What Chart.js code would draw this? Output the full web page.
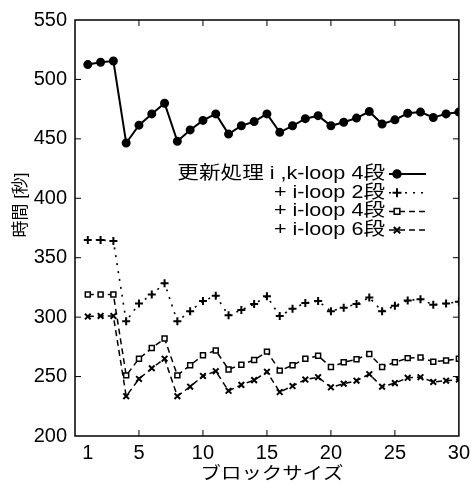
<!DOCTYPE html>
<html>
<head>
<meta charset="utf-8">
<script src="https://cdn.jsdelivr.net/npm/chart.js@4"></script>
<style>
  html, body { margin: 0; padding: 0; background: #fff; }
  #wrap { width: 475px; height: 488px; }
</style>
</head>
<body>
<div id="wrap"><canvas id="graph" width="475" height="488"></canvas></div>
<script>
  // block sizes 1..30
  const blockSizes = [1,2,3,4,5,6,7,8,9,10,11,12,13,14,15,16,17,18,19,20,21,22,23,24,25,26,27,28,29,30];
  const xTickLabels = [1, 5, 10, 15, 20, 25, 30];
  const yTicks = [200, 250, 300, 350, 400, 450, 500, 550];
  const xTitle = 'ブロックサイズ';
  const yTitle = '時間 [秒]';

  const seriesNames = ['更新処理 i ,k-loop 4段', '+ i-loop 2段', '+ i-loop 4段', '+ i-loop 6段'];
  const ikLoop4 = [512.5, 514.5, 515.5, 446.5, 461.5, 471, 480, 448, 457.5, 465.5, 471, 454, 461, 464.5, 471,
                   455.5, 461, 467, 469.5, 461, 464, 467.5, 473, 462.5, 466, 471.5, 472.5, 468, 471, 472.5];
  const iLoop2 = [365, 365, 364, 296.5, 311.5, 319, 328.5, 296.5, 305, 313.5, 318, 301.5, 306, 311, 317.5,
                  301, 307, 312, 313.5, 305, 308, 311, 316.5, 305, 309.5, 314, 315, 310.5, 311.5, 313];
  const iLoop4 = [319, 319, 319, 251, 265, 274, 282, 251, 259.5, 268, 272, 256, 260, 264, 271,
                  255, 259.5, 265, 267.5, 258, 262, 264.5, 269, 258, 262, 265.5, 266, 262.5, 263.5, 265];
  const iLoop6 = [300.5, 301, 301, 233.5, 248, 257, 265, 233.5, 241.5, 250.5, 254.5, 238, 243, 247, 254,
                  237, 242, 247.5, 249.5, 241, 244, 246.5, 252, 241.5, 244.5, 249, 249.5, 245.5, 246.5, 247.5];

  const pts = (vals) => blockSizes.map((b, i) => ({ x: b, y: vals[i] }));

  const numFont = { family: '"Liberation Sans", Arial, sans-serif', size: 20 };
  const txtFont = '"Liberation Sans", "Noto Sans CJK JP", sans-serif';

  // frame + inward ticks on all four sides, axis titles
  const framePlugin = {
    id: 'frame',
    afterDraw(chart) {
      const { ctx, chartArea: a, scales } = chart;
      ctx.save();
      ctx.strokeStyle = '#000';
      ctx.lineWidth = 1.5;
      ctx.strokeRect(a.left, a.top, a.right - a.left, a.bottom - a.top);
      ctx.lineWidth = 1;
      ctx.beginPath();
      [5, 10, 15, 20, 25].forEach(v => {
        const px = scales.x.getPixelForValue(v);
        ctx.moveTo(px, a.bottom); ctx.lineTo(px, a.bottom - 6);
        ctx.moveTo(px, a.top); ctx.lineTo(px, a.top + 6);
      });
      yTicks.slice(1, -1).forEach(v => {
        const py = scales.y.getPixelForValue(v);
        ctx.moveTo(a.left, py); ctx.lineTo(a.left + 6, py);
        ctx.moveTo(a.right, py); ctx.lineTo(a.right - 6, py);
      });
      ctx.stroke();

      ctx.fillStyle = '#000';
      ctx.textAlign = 'center';
      ctx.textBaseline = 'middle';
      // x title, slightly stretched like the scan
      ctx.save();
      ctx.translate(272, 474);
      ctx.scale(1.2, 1);
      ctx.font = '17px ' + txtFont;
      ctx.fillText(xTitle, 0, 0);
      ctx.restore();
      // y title
      ctx.save();
      ctx.translate(21, 205);
      ctx.rotate(-Math.PI / 2);
      ctx.font = '17px ' + txtFont;
      ctx.fillText(yTitle, 0, 0);
      ctx.restore();
      ctx.restore();
    }
  };

  // legend: text right aligned, line sample on the right
  const legendPlugin = {
    id: 'sideLegend',
    afterDraw(chart) {
      const { ctx } = chart;
      const textRight = 385, sx0 = 389, sx1 = 426, top = 174, step = 18.7;
      ctx.save();
      chart.data.datasets.forEach((ds, i) => {
        const y = top + i * step;
        ctx.fillStyle = '#000';
        ctx.save();
        ctx.translate(textRight, y);
        ctx.scale(1.2, 1);
        ctx.font = '18px ' + txtFont;
        ctx.textAlign = 'right';
        ctx.textBaseline = 'middle';
        ctx.fillText(ds.label, 0, 0);
        ctx.restore();
        ctx.strokeStyle = '#000';
        ctx.lineWidth = ds.borderWidth;
        ctx.setLineDash(ds.borderDash || []);
        ctx.beginPath();
        ctx.moveTo(sx0, y); ctx.lineTo(sx1, y);
        ctx.stroke();
        ctx.setLineDash([]);
        ctx.fillStyle = ds.pointBackgroundColor;
        ctx.lineWidth = ds.pointBorderWidth || 1.5;
        Chart.helpers.drawPoint(ctx, {
          pointStyle: ds.pointStyle, radius: ds.pointRadius + 0.5, rotation: 0,
          borderWidth: ds.pointBorderWidth || 1.5
        }, 397, y);
      });
      ctx.restore();
    }
  };

  new Chart(document.getElementById('graph').getContext('2d'), {
    type: 'line',
    data: {
      datasets: [
        { label: seriesNames[0], data: pts(ikLoop4), borderColor: '#000', borderWidth: 2,
          pointStyle: 'circle', pointRadius: 3.5, pointBackgroundColor: '#000', pointBorderColor: '#000' },
        { label: seriesNames[1], data: pts(iLoop2), borderColor: '#000', borderWidth: 1.6, borderDash: [2, 6],
          pointStyle: 'cross', pointRadius: 4, pointBorderWidth: 2, pointBackgroundColor: '#000', pointBorderColor: '#000' },
        { label: seriesNames[2], data: pts(iLoop4), borderColor: '#000', borderWidth: 1.5, borderDash: [6, 4],
          pointStyle: 'rect', pointRadius: 3.5, pointBorderWidth: 1.5, pointBackgroundColor: '#fff', pointBorderColor: '#000' },
        { label: seriesNames[3], data: pts(iLoop6), borderColor: '#000', borderWidth: 1.5, borderDash: [6, 4],
          pointStyle: 'crossRot', pointRadius: 4, pointBorderWidth: 2, pointBackgroundColor: '#000', pointBorderColor: '#000' }
      ]
    },
    options: {
      responsive: false,
      animation: false,
      layout: { padding: { top: 11, right: 12, left: 0, bottom: 0 } },
      plugins: { legend: { display: false }, tooltip: { enabled: false } },
      scales: {
        x: {
          type: 'linear', min: 0, max: 30,
          afterBuildTicks: (s) => { s.ticks = xTickLabels.map(v => ({ value: v })); },
          afterFit: (s) => { s.height = 52; },
          grid: { display: false, drawTicks: false },
          border: { display: false },
          ticks: { color: '#000', font: numFont, padding: 5, maxRotation: 0, autoSkip: false }
        },
        y: {
          type: 'linear', min: 200, max: 550,
          afterBuildTicks: (s) => { s.ticks = yTicks.map(v => ({ value: v })); },
          afterFit: (s) => { s.width = 75; },
          grid: { display: false, drawTicks: false },
          border: { display: false },
          ticks: { color: '#000', font: numFont, padding: 8 }
        }
      }
    },
    plugins: [framePlugin, legendPlugin]
  });
</script>
</body>
</html>
